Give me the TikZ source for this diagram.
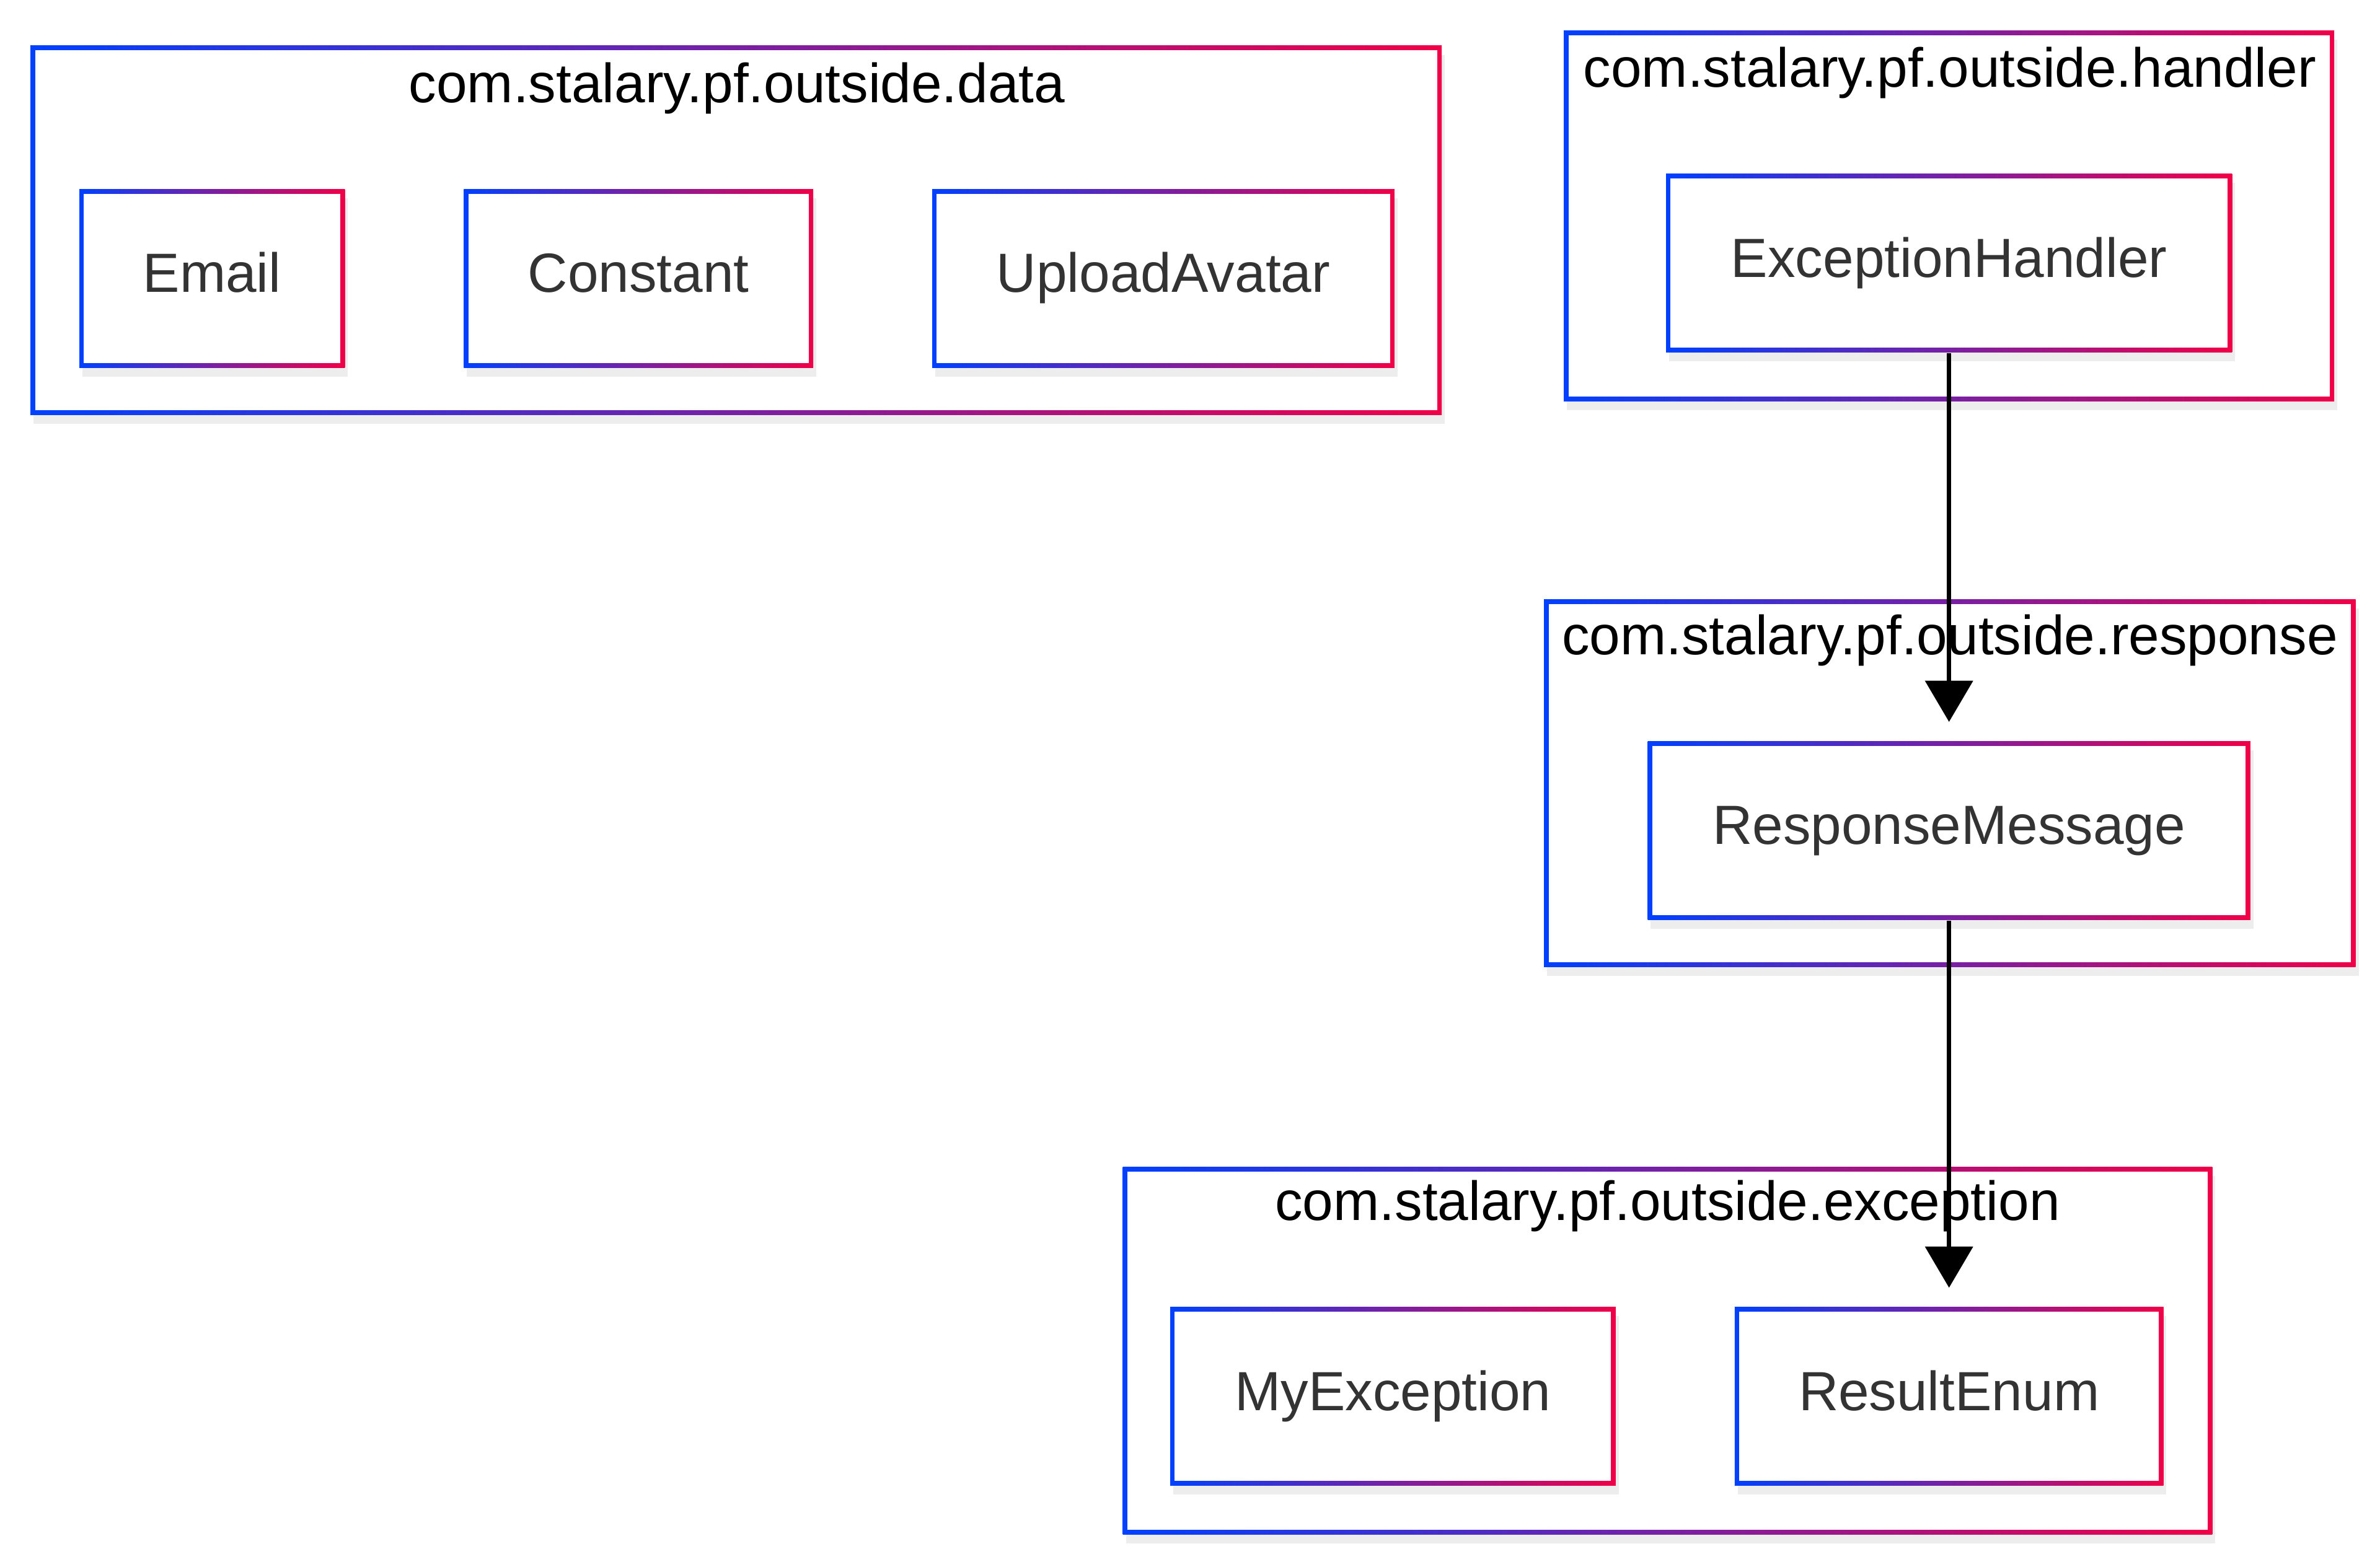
\documentclass[tikz,border=0pt]{standalone}
\usepackage{fontspec}
\setmainfont{Liberation Sans}
\usetikzlibrary{positioning, arrows.meta, calc, shadows}

\definecolor{gblue}{HTML}{0040FF}
\definecolor{gred}{HTML}{F00048}
\definecolor{txtgray}{HTML}{333333}

\begin{document}
\begin{tikzpicture}[
    font=\fontsize{10.3}{12}\selectfont,
    % Styles
    frame/.style={inner sep=0pt,
        drop shadow={fill=black, opacity=0.07, shadow xshift=0.02cm, shadow yshift=-0.06cm},
        path picture={
            \shade[left color=gblue, right color=gred]
                (path picture bounding box.south west) rectangle (path picture bounding box.north east);
            \fill[white]
                ([shift={(0.03,0.03)}]path picture bounding box.south west) rectangle
                ([shift={(-0.03,-0.03)}]path picture bounding box.north east);
        }},
    cluster/.style={frame},
    cls/.style={frame, text=txtgray, minimum height=1.17cm, text height=0.72em, text depth=0.2em},
    title/.style={text=black, text height=0.72em, text depth=0.2em},
    arrow/.style={-{Triangle[length=2.7mm, width=3.1mm]}, line width=0.8pt, shorten >=0.12cm}
]
    \useasboundingbox (0,0) rectangle (15.6,-10.24);

    % --- DATA ---
    \node[cluster, minimum width=9.25cm, minimum height=2.42cm] (data) at (4.825,-1.51) {};
    \node[title] (dataT) at (4.83,-0.58) {com.stalary.pf.outside.data};
    \node[cls, minimum width=1.74cm] (email) at (1.39,-1.825) {Email};
    \node[cls, minimum width=2.29cm] (constant) at (4.185,-1.825) {Constant};
    \node[cls, minimum width=3.03cm] (upload) at (7.625,-1.825) {UploadAvatar};

    % --- HANDLER ---
    \node[cluster, minimum width=5.05cm, minimum height=2.43cm] (handler) at (12.775,-1.415) {};
    \node[title] (handlerT) at (12.78,-0.48) {com.stalary.pf.outside.handler};
    \node[cls, minimum width=3.71cm] (exHandler) at (12.775,-1.725) {ExceptionHandler};

    % --- RESPONSE ---
    \node[cluster, minimum width=5.32cm, minimum height=2.41cm] (response) at (12.78,-5.135) {};
    \node[title] (responseT) at (12.78,-4.20) {com.stalary.pf.outside.response};
    \node[cls, minimum width=3.95cm] (respMsg) at (12.775,-5.445) {ResponseMessage};

    % --- EXCEPTION ---
    \node[cluster, minimum width=7.14cm, minimum height=2.41cm] (exception) at (10.93,-8.855) {};
    \node[title] (exceptionT) at (10.93,-7.91) {com.stalary.pf.outside.exception};
    \node[cls, minimum width=2.92cm] (myEx) at (9.13,-9.155) {MyException};
    \node[cls, minimum width=2.81cm] (resultEnum) at (12.775,-9.155) {ResultEnum};

    % Edges
    \draw[arrow] (exHandler) -- (respMsg);
    \draw[arrow] (respMsg) -- (resultEnum);

\end{tikzpicture}
\end{document}
